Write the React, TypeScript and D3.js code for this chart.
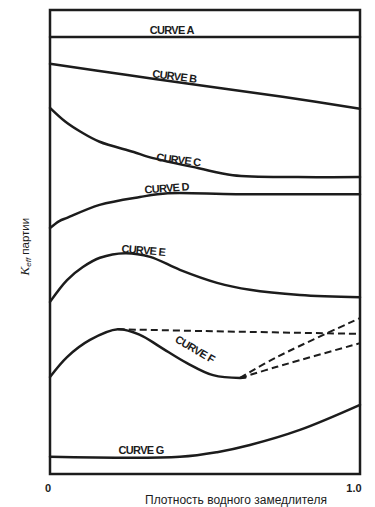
import React from 'react';
import * as d3 from 'd3';

// x: moderator density (0..1), y: K_eff (relative units, 0..1 of plot height)
const curveA = [[0, 0.942], [1, 0.942]];
const curveB = [[0, 0.884], [0.25, 0.860], [0.5, 0.836], [0.75, 0.813], [1, 0.787]];
const curveC = [[0, 0.789], [0.05, 0.759], [0.1, 0.737], [0.16, 0.716], [0.27, 0.694], [0.32, 0.683], [0.48, 0.659], [0.59, 0.644], [0.8, 0.640], [1, 0.640]];
const curveD = [[0, 0.530], [0.03, 0.545], [0.055, 0.552], [0.16, 0.580], [0.29, 0.597], [0.38, 0.605], [0.6, 0.603], [1, 0.603]];
const curveE = [[0, 0.371], [0.055, 0.418], [0.106, 0.446], [0.161, 0.466], [0.242, 0.476], [0.323, 0.468], [0.419, 0.440], [0.539, 0.412], [0.645, 0.397], [0.806, 0.386], [1, 0.381]];
const curveF = [[0, 0.209], [0.055, 0.252], [0.129, 0.289], [0.219, 0.312], [0.29, 0.300], [0.355, 0.274], [0.442, 0.239], [0.526, 0.213], [0.613, 0.207], [0.63, 0.208]];
const dashFlat = [[0.219, 0.312], [0.5, 0.308], [1, 0.302]];
const dashUpper = [[0.613, 0.207], [0.732, 0.252], [1, 0.336]];
const dashLower = [[0.613, 0.207], [0.732, 0.231], [1, 0.282]];
const curveG = [[0, 0.037], [0.419, 0.037], [0.539, 0.047], [0.645, 0.0625], [0.806, 0.095], [1, 0.149]];

const solidCurves = [curveA, curveB, curveC, curveD, curveE, curveF, curveG];
const dashedCurves = [dashFlat, dashUpper, dashLower];

// label text, baseline anchor [x, y] in data units, rotation
const labelNames = ['CURVE A', 'CURVE B', 'CURVE C', 'CURVE D', 'CURVE E', 'CURVE F', 'CURVE G'];
const labelAt = [[0.393, 0.948], [0.4, 0.849], [0.413, 0.669], [0.377, 0.608], [0.3, 0.474], [0.461, 0.262], [0.294, 0.043]];
const labelRot = [0, 7, 7, -4, 5, 30, 0];

const xTicks = [0, 1];
const xTickLabels = ['0', '1.0'];

const W = 375;
const H = 507;
const m = { top: 10, right: 15, bottom: 33, left: 50 };

export default function App() {
  const x = d3.scaleLinear().domain([0, 1]).range([m.left, W - m.right]);
  const y = d3.scaleLinear().domain([0, 1]).range([H - m.bottom, m.top]);
  const line = d3.line<number[]>()
    .x(d => x(d[0]))
    .y(d => y(d[1]))
    .curve(d3.curveCatmullRom.alpha(0.5));

  const ink = '#1c1c1c';

  return (
    <svg width={W} height={H} style={{ position: 'absolute', left: 0, top: 0, background: '#fff' }}
      fontFamily="'Liberation Sans', Arial, sans-serif">
      <rect x={x(0)} y={y(1)} width={x(1) - x(0)} height={y(0) - y(1)}
        fill="none" stroke={ink} strokeWidth={2.5} />
      {solidCurves.map((c, i) => (
        <path key={'s' + i} d={line(c) || ''} fill="none" stroke={ink} strokeWidth={2.5} strokeLinecap="round" />
      ))}
      {dashedCurves.map((c, i) => (
        <path key={'d' + i} d={line(c) || ''} fill="none" stroke={ink} strokeWidth={2}
          strokeDasharray="7,4" />
      ))}
      {labelNames.map((t, i) => {
        const px = x(labelAt[i][0]);
        const py = y(labelAt[i][1]);
        return (
          <text key={t} x={px} y={py} textAnchor="middle" fontSize={11} fontWeight="bold"
            letterSpacing={-0.7} fill={ink} transform={`rotate(${labelRot[i]},${px},${py})`}>
            {t}
          </text>
        );
      })}
      {xTicks.map((v, i) => (
        <text key={v} x={x(v) + (i === 0 ? -2 : -6)} y={H - m.bottom + 18} textAnchor="middle"
          fontSize={11} fontWeight="bold" fill={ink}>{xTickLabels[i]}</text>
      ))}
      <text x={x(0.6)} y={H - 3} textAnchor="middle" fontSize={12} fill={ink}>
        Плотность водного замедлителя
      </text>
      <text transform={`translate(29,${y(0.49)}) rotate(-90)`} textAnchor="middle" fontSize={11.5} fill={ink}>
        <tspan fontStyle="italic" fontFamily="'Liberation Serif', serif" fontSize={13}>K</tspan>
        <tspan fontStyle="italic" fontSize={8} dy={2}>eff</tspan>
        <tspan dy={-2}> партии</tspan>
      </text>
    </svg>
  );
}
